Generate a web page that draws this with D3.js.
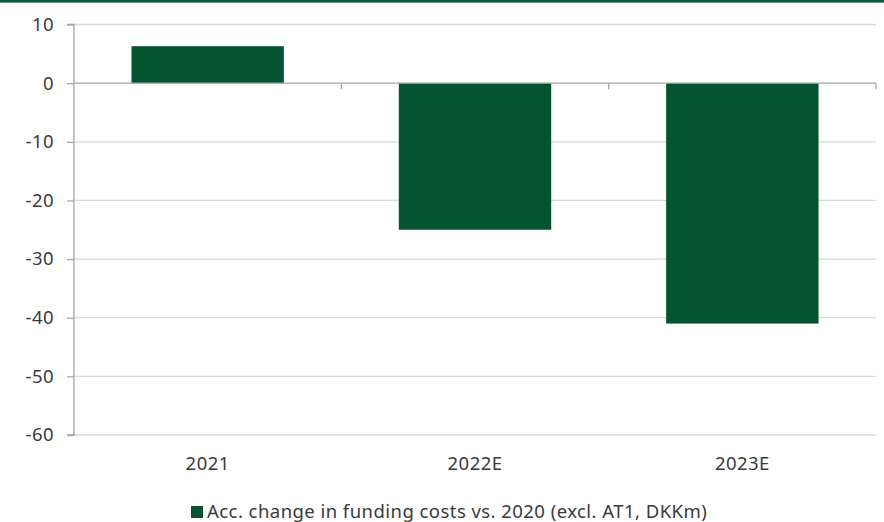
<!DOCTYPE html>
<html>
<head>
<meta charset="utf-8">
<script src="https://cdn.jsdelivr.net/npm/d3@7"></script>
<style>
  html, body { margin: 0; padding: 0; background: #fff; }
  svg { display: block; font-family: "Noto Sans", "Open Sans", sans-serif; }
</style>
</head>
<body>
<svg id="chart" width="884" height="522"></svg>
<script>
// Accumulated change in funding costs vs. 2020 (DKKm)
const categories = ["2021", "2022E", "2023E"];
const values = [6.3, -25.0, -41.0];
const yTicks = [10, 0, -10, -20, -30, -40, -50, -60];
const legendLabel = "Acc. change in funding costs vs. 2020 (excl. AT1, DKKm)";

const W = 884, H = 522;
const margin = { left: 74, right: 8, top: 24.5, bottom: 87 };
const green = "#03532f";
const textColor = "#3a3a3a";
const fontSize = 18.5;
const spacing = "0.45px";

const svg = d3.select("#chart");

// thin brand band across the top
svg.append("rect").attr("x", 0).attr("y", 0).attr("width", W).attr("height", 2.6)
  .attr("fill", "#0a5a3a");

const x = d3.scaleBand().domain(categories)
  .range([margin.left, W - margin.right]).paddingInner(0.43).paddingOuter(0.215);
const xStep = d3.scaleBand().domain(categories)
  .range([margin.left, W - margin.right]).padding(0);
const y = d3.scaleLinear().domain([-60, 10]).range([H - margin.bottom, margin.top]);

// horizontal gridlines
svg.append("g").selectAll("line").data(yTicks.filter(d => d !== 0)).join("line")
  .attr("x1", margin.left).attr("x2", W - margin.right)
  .attr("y1", d => y(d)).attr("y2", d => y(d))
  .attr("stroke", "#d9d9d9").attr("stroke-width", 1.3);

// y axis
const yAxis = d3.axisLeft(y).tickValues(yTicks).tickSize(7).tickPadding(10)
  .tickFormat(d => String(d));
const gy = svg.append("g").attr("transform", `translate(${margin.left},0)`).call(yAxis);
gy.select(".domain").attr("stroke", "#a6a6a6").attr("stroke-width", 1.3)
  .attr("d", `M-7,${y(10)}H0V${y(-60)}H-7`);
gy.selectAll(".tick line").attr("stroke", "#a6a6a6").attr("stroke-width", 1.3);
gy.selectAll(".tick text").attr("fill", textColor).attr("font-size", fontSize)
  .attr("font-family", "'Noto Sans', sans-serif").attr("letter-spacing", spacing)
  .attr("dx", -3);

// bars
svg.append("g").selectAll("rect").data(values).join("rect")
  .attr("x", (d, i) => x(categories[i]))
  .attr("width", x.bandwidth())
  .attr("y", d => y(Math.max(0, d)))
  .attr("height", d => Math.abs(y(d) - y(0)))
  .attr("fill", green);

// category axis on the zero line
const boundaries = categories.map(c => xStep(c)).concat([W - margin.right]);
svg.append("line")
  .attr("x1", margin.left).attr("x2", W - margin.right)
  .attr("y1", y(0)).attr("y2", y(0))
  .attr("stroke", "#a6a6a6").attr("stroke-width", 1.3);
svg.append("g").selectAll("line").data(boundaries.slice(1)).join("line")
  .attr("x1", d => d).attr("x2", d => d)
  .attr("y1", y(0)).attr("y2", y(0) + 6)
  .attr("stroke", "#a6a6a6").attr("stroke-width", 1.3);

// category labels below the plot
svg.append("g").selectAll("text").data(categories).join("text")
  .attr("x", d => xStep(d) + xStep.bandwidth() / 2)
  .attr("y", 469.5)
  .attr("text-anchor", "middle")
  .attr("fill", textColor).attr("font-size", fontSize).attr("letter-spacing", spacing)
  .text(d => d);

// legend
const lg = svg.append("g");
lg.append("rect").attr("x", 191).attr("y", 506).attr("width", 12).attr("height", 12)
  .attr("fill", green);
lg.append("text").attr("x", 207).attr("y", 518)
  .attr("fill", textColor).attr("font-size", fontSize).attr("letter-spacing", spacing)
  .text(legendLabel);
</script>
</body>
</html>
